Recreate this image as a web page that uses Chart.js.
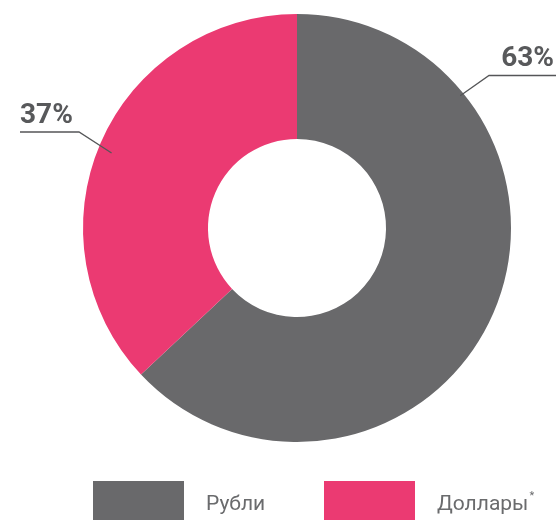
<!DOCTYPE html>
<html>
<head>
<meta charset="utf-8">
<script src="https://cdn.jsdelivr.net/npm/chart.js@4.4.1/dist/chart.umd.min.js"></script>
<style>
  html, body { margin: 0; padding: 0; background: #fff; }
  #wrap { width: 556px; height: 520px; position: relative; }
</style>
</head>
<body>
<div id="wrap"><canvas id="myChart" width="556" height="520"></canvas></div>
<script>
var labels = ['Рубли', 'Доллары'];
var values = [63, 37];
var valueLabels = ['63%', '37%'];
var colors = ['#69696b', '#eb3a72'];

// where each callout sits: side of the chart, text baseline, leader anchor on the ring
var callouts = [
    { side: 'right', x: 554, y: 66, lineY: 75.5, lineX: 489, angle: 51, r: 210 },
    { side: 'left', x: 20, y: 123, lineY: 132, lineX: 79, angle: 292, r: 200 }
];

var calloutPlugin = {
    id: 'callouts',
    afterDraw: function (chart) {
        var ctx = chart.ctx;
        var arc = chart.getDatasetMeta(0).data[0];
        var cx = arc.x, cy = arc.y;

        ctx.save();
        ctx.strokeStyle = '#555658';
        ctx.lineWidth = 1.3;
        ctx.fillStyle = '#58595b';
        ctx.font = 'bold 28px Roboto';
        ctx.textBaseline = 'alphabetic';

        callouts.forEach(function (c, i) {
            var a = c.angle * Math.PI / 180;
            var px = cx + Math.sin(a) * c.r;
            var py = cy - Math.cos(a) * c.r;
            ctx.beginPath();
            if (c.side === 'right') {
                ctx.moveTo(556, c.lineY);
                ctx.lineTo(c.lineX, c.lineY);
            } else {
                ctx.moveTo(c.x, c.lineY);
                ctx.lineTo(c.lineX, c.lineY);
            }
            ctx.lineTo(px, py);
            ctx.stroke();

            ctx.textAlign = c.side === 'right' ? 'right' : 'left';
            ctx.fillText(valueLabels[i], c.x, c.y);
        });

        // legend below the ring
        var boxes = [93, 324];
        ctx.font = '21px Roboto';
        ctx.textAlign = 'left';
        labels.forEach(function (name, i) {
            ctx.fillStyle = colors[i];
            ctx.fillRect(boxes[i], 481, 91, 39);
            ctx.fillStyle = '#6a6b6d';
            ctx.fillText(name, boxes[i] + 113, 510);
            if (i === 1) {
                var w = ctx.measureText(name).width;
                ctx.font = '11px Roboto';
                ctx.fillText('*', boxes[i] + 113 + w + 1, 499);
                ctx.font = '21px Roboto';
            }
        });
        ctx.restore();
    }
};

var ctx = document.getElementById('myChart').getContext('2d');
var myChart = new Chart(ctx, {
    type: 'doughnut',
    data: {
        labels: labels,
        datasets: [{
            data: values,
            backgroundColor: colors,
            borderWidth: 0
        }]
    },
    options: {
        responsive: false,
        animation: false,
        cutout: '41.6%',
        layout: {
            padding: { left: 83, right: 45, top: 14, bottom: 78 }
        },
        plugins: {
            legend: { display: false },
            tooltip: { enabled: false }
        }
    },
    plugins: [calloutPlugin]
});
</script>
</body>
</html>
